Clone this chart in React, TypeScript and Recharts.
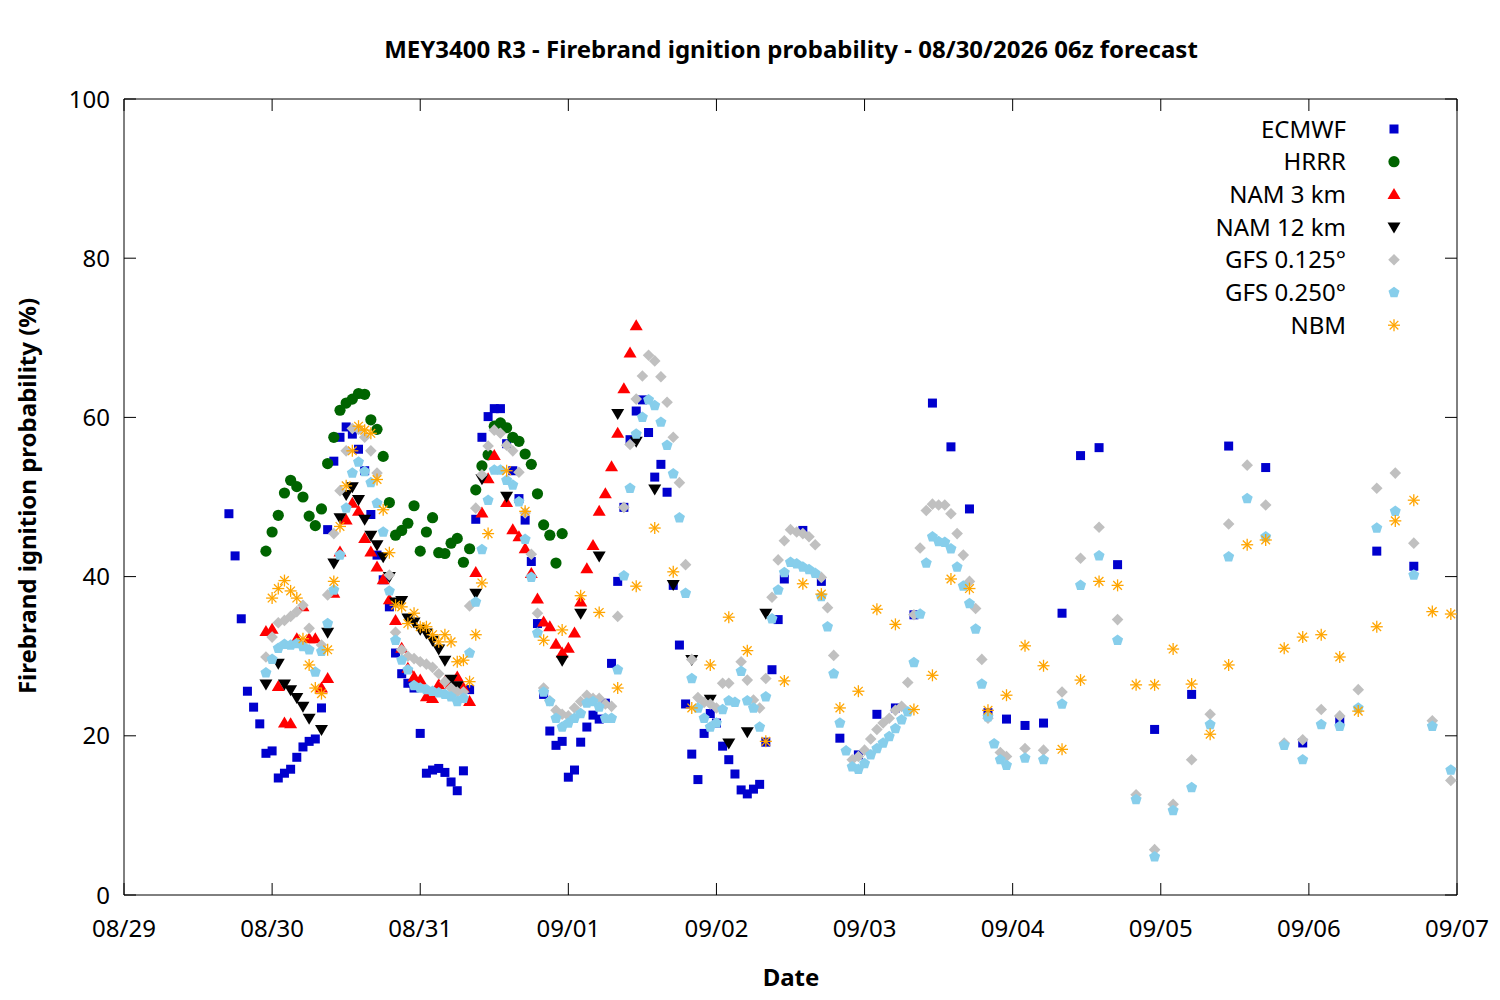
import { ScatterChart, Scatter, XAxis, YAxis, ReferenceArea } from "recharts";

// x = hours since 08/29 00:00, y = ignition probability (%)
const ecmwf: [number, number][] = [
  [17, 47.9], [18, 42.6], [19, 34.7], [20, 25.6], [21, 23.6], [22, 21.5], [23, 17.8], [24, 18.1],
  [25, 14.7], [26, 15.3], [27, 15.8], [28, 17.3], [29, 18.6], [30, 19.3], [31, 19.6], [32, 23.5],
  [33, 45.9], [34, 54.5], [35, 57.5], [36, 58.8], [37, 57.9], [38, 56.0], [39, 53.3], [40, 47.8],
  [41, 42.7], [42, 39.6], [43, 36.2], [44, 30.4], [45, 27.8], [46, 26.6], [47, 26.0], [48, 20.3],
  [49, 15.3], [50, 15.7], [51, 15.9], [52, 15.4], [53, 14.2], [54, 13.1], [55, 15.6], [56, 25.8],
  [57, 47.2], [58, 57.5], [59, 60.1], [60, 61.1], [61, 61.1], [62, 56.7], [63, 53.3], [64, 49.8],
  [65, 47.1], [66, 41.9], [67, 34.1], [68, 25.2], [69, 20.6], [70, 18.8], [71, 19.3], [72, 14.8],
  [73, 15.7], [74, 19.2], [75, 21.1], [76, 22.6], [77, 22.1], [78, 24.1], [79, 29.1], [80, 39.4],
  [81, 48.7], [82, 57.2], [83, 60.8], [84, 62.2], [85, 58.1], [86, 52.5], [87, 54.1], [88, 50.6],
  [89, 38.9], [90, 31.4], [91, 24.0], [92, 17.7], [93, 14.5], [94, 20.3], [95, 22.8], [96, 21.6],
  [97, 18.7], [98, 17.0], [99, 15.2], [100, 13.2], [101, 12.7], [102, 13.3], [103, 13.9], [104, 19.2],
  [105, 28.3], [106, 34.6], [107, 39.7], [110, 45.8], [113, 39.4], [116, 19.7], [119, 17.6], [122, 22.7],
  [125, 23.5], [128, 35.2], [131, 61.8], [134, 56.3], [137, 48.5], [140, 22.9], [143, 22.1], [146, 21.3],
  [149, 21.6], [152, 35.4], [155, 55.2], [158, 56.2], [161, 41.5], [167, 20.8], [173, 25.2], [179, 56.4],
  [185, 53.7], [191, 19.1], [197, 21.9], [203, 43.2], [209, 41.3],
];

const hrrr: [number, number][] = [
  [23, 43.2], [24, 45.6], [25, 47.7], [26, 50.5], [27, 52.1], [28, 51.3], [29, 50.0], [30, 47.6],
  [31, 46.4], [32, 48.5], [33, 54.2], [34, 57.5], [35, 60.9], [36, 61.8], [37, 62.3], [38, 63.0],
  [39, 62.9], [40, 59.7], [41, 58.5], [42, 55.1], [43, 49.3], [44, 45.2], [45, 45.8], [46, 46.7],
  [47, 48.9], [48, 43.2], [49, 45.6], [50, 47.4], [51, 43.0], [52, 42.9], [53, 44.2], [54, 44.8],
  [55, 41.8], [56, 43.5], [57, 50.9], [58, 53.9], [59, 55.3], [60, 58.9], [61, 59.3], [62, 58.7],
  [63, 57.5], [64, 57.0], [65, 55.4], [66, 54.1], [67, 50.4], [68, 46.5], [69, 45.2], [70, 41.7],
  [71, 45.4],
];

const nam3: [number, number][] = [
  [23, 33.1], [24, 33.4], [25, 26.2], [26, 21.6], [27, 21.5], [28, 32.2], [29, 36.2], [30, 32.2],
  [31, 32.2], [32, 26.0], [33, 27.2], [34, 37.9], [35, 43.1], [36, 47.1], [37, 49.2], [38, 48.2],
  [39, 44.8], [40, 43.1], [41, 41.2], [42, 39.6], [43, 37.1], [44, 34.5], [45, 31.0], [46, 28.5],
  [47, 27.4], [48, 27.0], [49, 24.9], [50, 24.7], [51, 26.4], [52, 26.8], [53, 26.5], [54, 27.4],
  [55, 26.0], [56, 24.3], [57, 40.5], [58, 48.0], [59, 52.3], [60, 55.2], [62, 49.3], [63, 45.9],
  [64, 45.0], [65, 43.5], [66, 40.4], [67, 37.2], [68, 34.3], [69, 33.7], [70, 31.5], [71, 30.4],
  [72, 31.0], [73, 32.9], [74, 36.8], [75, 41.0], [76, 43.9], [77, 48.2], [78, 50.4], [79, 53.8],
  [80, 58.0], [81, 63.6], [82, 68.1], [83, 71.5],
];

const nam12: [number, number][] = [
  [23, 26.5], [25, 29.1], [26, 26.5], [27, 25.8], [28, 24.8], [29, 23.7], [30, 22.2], [32, 20.8],
  [33, 33.0], [34, 41.7], [35, 47.4], [36, 50.3], [37, 51.3], [38, 49.7], [39, 47.2], [40, 45.2],
  [41, 44.0], [42, 42.5], [43, 40.0], [44, 36.8], [45, 37.0], [46, 34.8], [47, 34.3], [48, 33.4],
  [49, 32.9], [50, 32.0], [51, 30.9], [52, 29.5], [53, 27.1], [54, 26.3], [57, 37.9], [58, 52.3],
  [62, 50.1], [71, 29.5], [74, 35.4], [77, 42.6], [80, 60.5], [83, 57.0], [86, 51.0], [89, 39.0],
  [92, 29.6], [95, 24.6], [98, 19.1], [101, 20.5], [104, 35.4],
];

const gfs125: [number, number][] = [
  [23, 29.9], [24, 32.4], [25, 34.2], [26, 34.5], [27, 35.0], [28, 35.6], [29, 36.4], [30, 33.5],
  [32, 31.4], [33, 37.7], [34, 45.4], [35, 50.8], [36, 55.8], [37, 58.6], [38, 58.5], [39, 57.5],
  [40, 55.8], [41, 53.0], [43, 40.2], [44, 33.0], [45, 30.8], [46, 30.0], [47, 29.7], [48, 29.3],
  [49, 29.0], [50, 28.6], [51, 27.8], [52, 26.8], [53, 26.0], [54, 25.5], [55, 25.5], [56, 36.3],
  [57, 48.6], [58, 52.8], [59, 56.4], [60, 58.4], [61, 58.0], [62, 56.5], [63, 55.8], [64, 53.1],
  [65, 48.0], [66, 42.8], [67, 35.4], [68, 26.0], [69, 24.4], [70, 23.2], [71, 22.7], [72, 22.5],
  [73, 23.5], [74, 24.3], [75, 25.1], [76, 24.7], [77, 24.7], [78, 24.0], [79, 23.7], [80, 35.0],
  [81, 48.7], [82, 56.6], [83, 62.3], [84, 65.2], [85, 67.8], [86, 67.1], [87, 65.1], [88, 61.9],
  [89, 57.5], [90, 51.8], [91, 41.5], [92, 29.6], [93, 24.8], [94, 24.2], [95, 24.0], [96, 23.5],
  [97, 26.6], [98, 26.6], [100, 29.3], [101, 27.0], [102, 24.5], [103, 23.5], [104, 27.2], [105, 37.4],
  [106, 42.1], [107, 44.5], [108, 45.9], [109, 45.6], [110, 45.4], [111, 45.0], [112, 44.0], [113, 39.9],
  [114, 36.1], [115, 30.1], [118, 17.0], [119, 17.4], [120, 18.2], [121, 19.6], [122, 20.8], [123, 21.6],
  [124, 22.2], [125, 23.2], [126, 23.7], [127, 26.7], [128, 35.2], [129, 43.6], [130, 48.3], [131, 49.1],
  [132, 49.0], [133, 49.0], [134, 47.9], [135, 45.4], [136, 42.7], [137, 39.4], [138, 36.0], [139, 29.6],
  [140, 22.2], [142, 17.9], [143, 17.4], [146, 18.4], [149, 18.2], [152, 25.5], [155, 42.3], [158, 46.2],
  [161, 34.6], [164, 12.6], [167, 5.7], [170, 11.4], [173, 17.0], [176, 22.7], [179, 46.6], [182, 54.0],
  [185, 49.0], [188, 19.1], [191, 19.5], [194, 23.3], [197, 22.5], [200, 25.8], [203, 51.1], [206, 53.0],
  [209, 44.2], [212, 21.9], [215, 14.4],
];

const gfs250: [number, number][] = [
  [23, 27.9], [24, 29.6], [25, 31.0], [26, 31.5], [27, 31.4], [28, 31.6], [29, 31.2], [30, 30.8],
  [31, 28.0], [32, 30.6], [33, 34.1], [34, 38.3], [35, 42.7], [36, 48.6], [37, 53.0], [38, 54.4],
  [39, 53.2], [40, 51.8], [41, 49.2], [42, 45.6], [43, 38.2], [44, 32.0], [45, 29.5], [46, 28.3],
  [47, 26.3], [48, 26.0], [49, 25.8], [50, 25.6], [51, 25.4], [52, 25.2], [53, 24.9], [54, 24.3],
  [55, 24.7], [56, 30.4], [57, 36.8], [58, 43.4], [59, 49.6], [60, 53.4], [61, 53.4], [62, 52.1],
  [63, 51.5], [64, 49.4], [65, 44.7], [66, 39.9], [67, 32.9], [68, 25.5], [69, 24.3], [70, 22.2],
  [71, 21.1], [72, 21.6], [73, 22.2], [74, 22.8], [75, 24.1], [76, 24.3], [77, 23.6], [78, 22.2],
  [79, 22.2], [80, 28.3], [81, 40.1], [82, 51.1], [83, 57.9], [84, 60.0], [85, 62.2], [86, 61.5],
  [87, 59.4], [88, 56.5], [89, 52.9], [90, 47.4], [91, 37.9], [92, 27.2], [93, 23.5], [94, 22.2],
  [95, 21.1], [96, 21.6], [97, 23.3], [98, 24.4], [99, 24.2], [100, 28.1], [101, 24.4], [102, 23.5],
  [103, 21.1], [104, 24.9], [105, 34.7], [106, 38.3], [107, 40.5], [108, 41.8], [109, 41.6], [110, 41.2],
  [111, 40.9], [112, 40.4], [113, 37.5], [114, 33.7], [115, 27.8], [116, 21.6], [117, 18.1], [118, 16.1],
  [119, 15.8], [120, 16.5], [121, 17.6], [122, 18.4], [123, 19.1], [124, 19.9], [125, 20.9], [126, 22.0],
  [127, 23.0], [128, 29.2], [129, 35.3], [130, 41.7], [131, 45.0], [132, 44.4], [133, 44.3], [134, 43.5],
  [135, 41.2], [136, 38.8], [137, 36.6], [138, 33.4], [139, 26.5], [140, 22.4], [141, 19.0], [142, 17.0],
  [143, 16.3], [146, 17.2], [149, 17.0], [152, 24.0], [155, 38.9], [158, 42.6], [161, 32.0], [164, 12.0],
  [167, 4.8], [170, 10.6], [173, 13.5], [176, 21.4], [179, 42.5], [182, 49.8], [185, 45.0], [188, 18.8],
  [191, 17.0], [194, 21.4], [197, 21.2], [200, 23.5], [203, 46.1], [206, 48.2], [209, 40.2], [212, 21.2],
  [215, 15.7],
];

const nbm: [number, number][] = [
  [24, 37.3], [25, 38.5], [26, 39.5], [27, 38.2], [28, 37.3], [29, 32.2], [30, 28.9], [31, 26.0],
  [32, 25.3], [33, 30.8], [34, 39.4], [35, 46.3], [36, 51.4], [37, 55.8], [38, 58.9], [39, 58.4],
  [40, 58.0], [41, 52.2], [42, 48.4], [43, 43.0], [44, 36.4], [45, 36.2], [46, 34.1], [47, 35.4],
  [48, 33.7], [49, 33.7], [50, 32.7], [51, 31.8], [52, 32.7], [53, 31.8], [54, 29.3], [55, 29.5],
  [56, 26.8], [57, 32.7], [58, 39.2], [59, 45.4], [62, 53.3], [65, 48.2], [68, 32.0], [71, 33.3],
  [74, 37.6], [77, 35.5], [80, 26.0], [83, 38.8], [86, 46.1], [89, 40.6], [92, 23.5], [95, 28.9],
  [98, 34.9], [101, 30.7], [104, 19.3], [107, 26.9], [110, 39.1], [113, 37.8], [116, 23.5], [119, 25.6],
  [122, 35.9], [125, 34.0], [128, 23.3], [131, 27.6], [134, 39.7], [137, 38.5], [140, 23.2], [143, 25.1],
  [146, 31.3], [149, 28.8], [152, 18.3], [155, 27.0], [158, 39.4], [161, 38.9], [164, 26.4], [167, 26.4],
  [170, 30.9], [173, 26.5], [176, 20.2], [179, 28.9], [182, 44.0], [185, 44.6], [188, 31.0], [191, 32.4],
  [194, 32.7], [197, 29.9], [200, 23.1], [203, 33.7], [206, 47.0], [209, 49.6], [212, 35.6], [215, 35.3],
];

const dateLabels = ["08/29", "08/30", "08/31", "09/01", "09/02", "09/03", "09/04", "09/05", "09/06", "09/07"];
const yTicks = [0, 20, 40, 60, 80, 100];

const SERIES = [
  { name: "ECMWF", data: ecmwf, color: "#0000cd", kind: "square" },
  { name: "HRRR", data: hrrr, color: "#006400", kind: "circle" },
  { name: "NAM 3 km", data: nam3, color: "#ff0000", kind: "triUp" },
  { name: "NAM 12 km", data: nam12, color: "#000000", kind: "triDown" },
  { name: "GFS 0.125°", data: gfs125, color: "#c0c0c0", kind: "diamond" },
  { name: "GFS 0.250°", data: gfs250, color: "#87ceeb", kind: "pentagon" },
  { name: "NBM", data: nbm, color: "#ffa500", kind: "star" },
];

const W = 1500;
const H = 1000;
const LEFT = 124;
const TOP = 99;
const RIGHT = 43;
const BOTTOM = 105;
const PW = W - LEFT - RIGHT;
const PH = H - TOP - BOTTOM;
const TICK = 12;
const FONT = "'Noto Sans', 'Open Sans', sans-serif";

function Marker({ kind, cx, cy, color }: { kind: string; cx: number; cy: number; color: string }) {
  if (cx == null || cy == null) return null;
  switch (kind) {
    case "square":
      return <rect x={cx - 4.5} y={cy - 4.5} width={9} height={9} fill={color} />;
    case "circle":
      return <circle cx={cx} cy={cy} r={5.6} fill={color} />;
    case "triUp":
      return <polygon points={`${cx},${cy - 6.5} ${cx + 6.5},${cy + 4.5} ${cx - 6.5},${cy + 4.5}`} fill={color} />;
    case "triDown":
      return <polygon points={`${cx},${cy + 6.5} ${cx + 6.5},${cy - 4.5} ${cx - 6.5},${cy - 4.5}`} fill={color} />;
    case "diamond":
      return <polygon points={`${cx},${cy - 5.8} ${cx + 5.8},${cy} ${cx},${cy + 5.8} ${cx - 5.8},${cy}`} fill={color} />;
    case "pentagon": {
      const pts = [0, 1, 2, 3, 4]
        .map((i) => {
          const a = -Math.PI / 2 + (i * 2 * Math.PI) / 5;
          return `${cx + 5.8 * Math.cos(a)},${cy + 5.8 * Math.sin(a)}`;
        })
        .join(" ");
      return <polygon points={pts} fill={color} />;
    }
    case "star": {
      const r = 6;
      const d = r * 0.72;
      return (
        <g stroke={color} strokeWidth={1.3}>
          <line x1={cx - r} y1={cy} x2={cx + r} y2={cy} />
          <line x1={cx} y1={cy - r} x2={cx} y2={cy + r} />
          <line x1={cx - d} y1={cy - d} x2={cx + d} y2={cy + d} />
          <line x1={cx - d} y1={cy + d} x2={cx + d} y2={cy - d} />
        </g>
      );
    }
    default:
      return null;
  }
}

// bottom ticks point inward, mirrored on the top border
const XTick = ({ x, y, payload }: any) => (
  <g>
    <line x1={x} y1={y} x2={x} y2={y - TICK} stroke="#000" />
    <line x1={x} y1={y - PH} x2={x} y2={y - PH + TICK} stroke="#000" />
    <text x={x} y={y + 42} textAnchor="middle" fontSize={24} fill="#000" fontFamily={FONT}>
      {dateLabels[Math.round(payload.value / 24)]}
    </text>
  </g>
);

const YTick = ({ x, y, payload }: any) => (
  <g>
    <line x1={x} y1={y} x2={x + TICK} y2={y} stroke="#000" />
    <line x1={x + PW} y1={y} x2={x + PW - TICK} y2={y} stroke="#000" />
    <text x={x - 14} y={y + 8.5} textAnchor="end" fontSize={24} fill="#000" fontFamily={FONT}>
      {payload.value}
    </text>
  </g>
);

export default function App() {
  return (
    <div style={{ position: "absolute", left: 0, top: 0, width: W, height: H, background: "#fff" }}>
      <ScatterChart width={W} height={H} margin={{ top: TOP, right: RIGHT, left: 0, bottom: 0 }}>
        <XAxis
          dataKey="t"
          type="number"
          domain={[0, 216]}
          ticks={dateLabels.map((_, i) => i * 24)}
          interval={0}
          height={BOTTOM}
          axisLine={false}
          tickLine={false}
          tickSize={0}
          tickMargin={0}
          tick={XTick}
        />
        <YAxis
          dataKey="v"
          type="number"
          domain={[0, 100]}
          ticks={yTicks}
          interval={0}
          width={LEFT}
          axisLine={false}
          tickLine={false}
          tickSize={0}
          tickMargin={0}
          tick={YTick}
        />
        {SERIES.map((s) => (
          <Scatter
            key={s.name}
            name={s.name}
            data={s.data.map(([t, v]) => ({ t, v }))}
            fill={s.color}
            isAnimationActive={false}
            shape={(p: any) => <Marker kind={s.kind} cx={p.cx} cy={p.cy} color={s.color} />}
          />
        ))}
        <ReferenceArea x1={0} x2={216} y1={0} y2={100} fill="none" stroke="#000" strokeWidth={1} />
      </ScatterChart>

      {/* title, axis labels and key drawn over the chart */}
      <svg width={W} height={H} style={{ position: "absolute", left: 0, top: 0, pointerEvents: "none" }}>
        <text x={791} y={58} textAnchor="middle" fontSize={24} fontWeight="bold" fontFamily={FONT}>
          MEY3400 R3 - Firebrand ignition probability - 08/30/2026 06z forecast
        </text>
        <text x={791} y={986} textAnchor="middle" fontSize={24} fontWeight="bold" fontFamily={FONT}>
          Date
        </text>
        <text
          transform="translate(36,496) rotate(-90)"
          textAnchor="middle"
          fontSize={24}
          fontWeight="bold"
          fontFamily={FONT}
        >
          Firebrand ignition probability (%)
        </text>
        {SERIES.map((s, i) => {
          const cy = 129 + i * 32.7;
          return (
            <g key={s.name}>
              <text x={1346} y={cy + 8.5} textAnchor="end" fontSize={24} fontFamily={FONT}>
                {s.name}
              </text>
              <Marker kind={s.kind} cx={1394} cy={cy} color={s.color} />
            </g>
          );
        })}
      </svg>
    </div>
  );
}
